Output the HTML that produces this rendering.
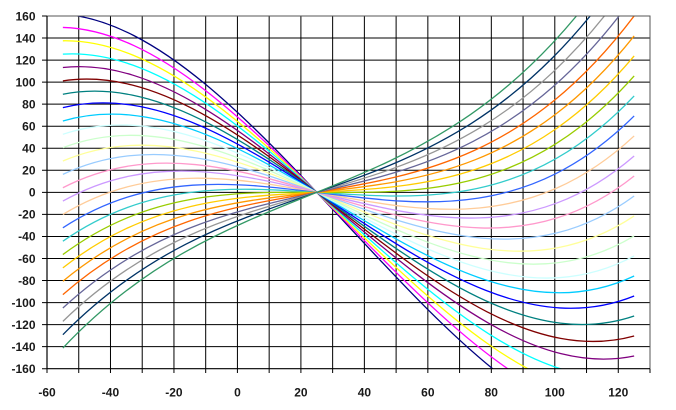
<!DOCTYPE html>
<html>
<head>
<meta charset="utf-8">
<style>
  html,body{margin:0;padding:0;background:#fff;width:676px;height:410px;overflow:hidden;}
  svg{display:block;position:absolute;left:0;top:0;}
  text{font-family:"Liberation Sans",Arial,sans-serif;font-weight:bold;font-size:12px;fill:#1a1a1a;}
</style>
</head>
<body>
<svg width="676" height="410" viewBox="0 0 676 410" xmlns="http://www.w3.org/2000/svg">
  <rect x="0" y="0" width="676" height="410" fill="#fff"/>
  <defs>
    <clipPath id="pa"><rect x="47" y="16" width="603" height="352.7"/></clipPath>
  </defs>

  <!-- gridlines -->
  <g transform="translate(316.77,192.35) scale(3.1737,-1.1022)" fill="none" stroke="#000" stroke-width="1">
    <path vector-effect="non-scaling-stroke" d="
      M-75,-160V160 M-65,-160V160 M-55,-160V160 M-45,-160V160 M-35,-160V160
      M-25,-160V160 M-15,-160V160 M-5,-160V160 M5,-160V160 M15,-160V160
      M25,-160V160 M35,-160V160 M45,-160V160 M55,-160V160 M65,-160V160
      M75,-160V160 M85,-160V160 M95,-160V160
      M-85,140H105 M-85,120H105 M-85,100H105 M-85,80H105 M-85,60H105 M-85,40H105
      M-85,20H105 M-85,0H105 M-85,-20H105 M-85,-40H105 M-85,-60H105 M-85,-80H105
      M-85,-100H105 M-85,-120H105 M-85,-140H105"/>
  </g>

  <!-- series -->
  <g clip-path="url(#pa)">
  <g transform="translate(316.77,192.35) scale(3.1737,-1.1022)" fill="none" stroke-width="1.3" stroke-linejoin="round">
    <path vector-effect="non-scaling-stroke" stroke="#000080" d="M-80,161.744 C-33.2,151.858 13.6,-69.76 60.4,-171.283"/>
    <path vector-effect="non-scaling-stroke" stroke="#FF00FF" d="M-80,149.623 C-30.8,145.661 18.4,-90.116 67.6,-173.837"/>
    <path vector-effect="non-scaling-stroke" stroke="#FFFF00" d="M-80,137.502 C-20,140.512 40,-197.976 100,-184.78"/>
    <path vector-effect="non-scaling-stroke" stroke="#00FFFF" d="M-80,125.381 C-20,136.233 40,-191.154 100,-166.63"/>
    <path vector-effect="non-scaling-stroke" stroke="#800080" d="M-80,113.26 C-20,131.954 40,-184.332 100,-148.48"/>
    <path vector-effect="non-scaling-stroke" stroke="#800000" d="M-80,101.139 C-20,127.675 40,-177.51 100,-130.33"/>
    <path vector-effect="non-scaling-stroke" stroke="#008080" d="M-80,89.018 C-20,123.396 40,-170.688 100,-112.18"/>
    <path vector-effect="non-scaling-stroke" stroke="#0000FF" d="M-80,76.897 C-20,119.117 40,-163.866 100,-94.03"/>
    <path vector-effect="non-scaling-stroke" stroke="#00CCFF" d="M-80,64.776 C-20,114.838 40,-157.044 100,-75.88"/>
    <path vector-effect="non-scaling-stroke" stroke="#CCFFFF" d="M-80,52.655 C-20,110.559 40,-150.222 100,-57.73"/>
    <path vector-effect="non-scaling-stroke" stroke="#CCFFCC" d="M-80,40.534 C-20,106.28 40,-143.4 100,-39.58"/>
    <path vector-effect="non-scaling-stroke" stroke="#FFFF99" d="M-80,28.413 C-20,102.001 40,-136.578 100,-21.43"/>
    <path vector-effect="non-scaling-stroke" stroke="#99CCFF" d="M-80,16.292 C-20,97.722 40,-129.756 100,-3.28"/>
    <path vector-effect="non-scaling-stroke" stroke="#FF99CC" d="M-80,4.171 C-20,93.443 40,-122.934 100,14.87"/>
    <path vector-effect="non-scaling-stroke" stroke="#CC99FF" d="M-80,-7.95 C-20,89.164 40,-116.112 100,33.02"/>
    <path vector-effect="non-scaling-stroke" stroke="#FFCC99" d="M-80,-20.071 C-20,84.885 40,-109.29 100,51.17"/>
    <path vector-effect="non-scaling-stroke" stroke="#3366FF" d="M-80,-32.192 C-20,80.606 40,-102.468 100,69.32"/>
    <path vector-effect="non-scaling-stroke" stroke="#33CCCC" d="M-80,-44.313 C-20,76.327 40,-95.646 100,87.47"/>
    <path vector-effect="non-scaling-stroke" stroke="#99CC00" d="M-80,-56.434 C-20,72.048 40,-88.824 100,105.62"/>
    <path vector-effect="non-scaling-stroke" stroke="#FFCC00" d="M-80,-68.555 C-20,67.769 40,-82.002 100,123.77"/>
    <path vector-effect="non-scaling-stroke" stroke="#FF9900" d="M-80,-80.676 C-20,63.49 40,-75.18 100,141.92"/>
    <path vector-effect="non-scaling-stroke" stroke="#FF6600" d="M-80,-92.797 C-20,59.211 40,-68.358 100,160.07"/>
    <path vector-effect="non-scaling-stroke" stroke="#666699" d="M-80,-104.918 C-20,54.932 40,-61.536 100,178.22"/>
    <path vector-effect="non-scaling-stroke" stroke="#969696" d="M-80,-117.039 C-20,50.653 40,-54.714 100,196.37"/>
    <path vector-effect="non-scaling-stroke" stroke="#003366" d="M-80,-129.16 C-20,46.374 40,-47.892 100,214.52"/>
    <path vector-effect="non-scaling-stroke" stroke="#339966" d="M-80,-141.281 C-20,42.095 40,-41.07 100,232.67"/>
  </g>
  </g>

  <!-- plot border top/right -->
  <path d="M47,16H650V368.7" fill="none" stroke="#555" stroke-width="1"/>
  <!-- axes -->
  <path d="M47,16V368.7H650" fill="none" stroke="#000" stroke-width="1.2"/>

  <!-- ticks -->
  <g stroke="#000" stroke-width="1">
    <path d="M42,16H47 M42,38.04H47 M42,60.09H47 M42,82.13H47 M42,104.18H47 M42,126.22H47 M42,148.26H47 M42,170.31H47 M42,192.35H47 M42,214.39H47 M42,236.44H47 M42,258.48H47 M42,280.53H47 M42,302.57H47 M42,324.61H47 M42,346.66H47 M42,368.7H47"/>
    <path d="M47,368.7V373 M78.74,368.7V373 M110.47,368.7V373 M142.21,368.7V373 M173.95,368.7V373 M205.69,368.7V373 M237.42,368.7V373 M269.16,368.7V373 M300.9,368.7V373 M332.63,368.7V373 M364.37,368.7V373 M396.11,368.7V373 M427.84,368.7V373 M459.58,368.7V373 M491.32,368.7V373 M523.06,368.7V373 M554.79,368.7V373 M586.53,368.7V373 M618.27,368.7V373 M650,368.7V373"/>
  </g>

  <!-- y labels -->
  <g text-anchor="end">
    <text x="35.5" y="20.3">160</text>
    <text x="35.5" y="42.3">140</text>
    <text x="35.5" y="64.4">120</text>
    <text x="35.5" y="86.4">100</text>
    <text x="35.5" y="108.5">80</text>
    <text x="35.5" y="130.5">60</text>
    <text x="35.5" y="152.6">40</text>
    <text x="35.5" y="174.6">20</text>
    <text x="35.5" y="196.6">0</text>
    <text x="35.5" y="218.7">-20</text>
    <text x="35.5" y="240.7">-40</text>
    <text x="35.5" y="262.8">-60</text>
    <text x="35.5" y="284.8">-80</text>
    <text x="35.5" y="306.9">-100</text>
    <text x="35.5" y="328.9">-120</text>
    <text x="35.5" y="350.9">-140</text>
    <text x="35.5" y="373">-160</text>
  </g>

  <!-- x labels -->
  <g text-anchor="middle">
    <text x="47" y="396.3">-60</text>
    <text x="110.47" y="396.3">-40</text>
    <text x="173.95" y="396.3">-20</text>
    <text x="237.42" y="396.3">0</text>
    <text x="300.9" y="396.3">20</text>
    <text x="364.37" y="396.3">40</text>
    <text x="427.84" y="396.3">60</text>
    <text x="491.32" y="396.3">80</text>
    <text x="554.79" y="396.3">100</text>
    <text x="618.27" y="396.3">120</text>
  </g>
</svg>
</body>
</html>
